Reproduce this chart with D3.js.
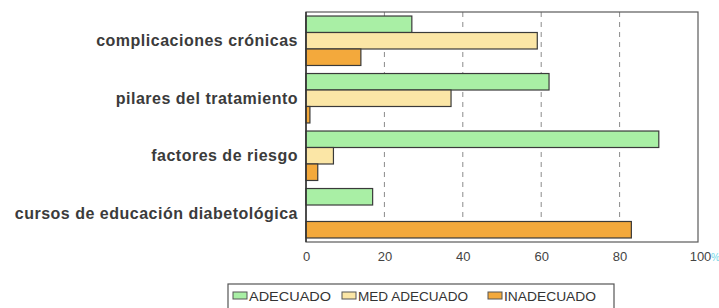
<!DOCTYPE html>
<html><head><meta charset="utf-8">
<script src="https://cdn.jsdelivr.net/npm/d3@7"></script>
<style>body{margin:0;background:#fff;}svg{display:block;}</style>
</head><body>
<svg id="c" width="719" height="308"></svg>
<script>
const categories = ["complicaciones crónicas","pilares del tratamiento","factores de riesgo","cursos de educación diabetológica"];
const seriesNames = ["ADECUADO","MED ADECUADO","INADECUADO"];
const adecuado = [27, 62, 90, 17];
const medio = [59, 37, 7, 0];
const inadecuado = [14, 1, 3, 83];
const xTicks = [0, 20, 40, 60, 80, 100];
const colors = ["#a9efa5", "#fbe6a6", "#f3a93c"];

const svg = d3.select("#c");
const L = 306, R = 698, T = 12, B = 242;
const x = d3.scaleLinear().domain([0, 100]).range([L, R]);
const y = d3.scaleBand().domain(categories).range([T, B]).paddingInner(0.14).paddingOuter(0.07);
const ys = d3.scaleBand().domain(seriesNames).range([0, y.bandwidth()]);
const values = [adecuado, medio, inadecuado];

// grid
svg.append("g").selectAll("line").data(xTicks.filter(t => t > 0 && t < 100)).join("line")
  .attr("x1", d => x(d)).attr("x2", d => x(d)).attr("y1", T).attr("y2", B)
  .attr("stroke", "#8a8a8a").attr("stroke-width", 1).attr("stroke-dasharray", "5,5");

// frame
svg.append("rect").attr("x", L).attr("y", T).attr("width", R - L).attr("height", B - T)
  .attr("fill", "none").attr("stroke", "#5a5a5a").attr("stroke-width", 1.2);

// bars
const data = [];
categories.forEach((c, i) => seriesNames.forEach((s, j) => data.push({c, s, j, v: values[j][i]})));
svg.append("g").selectAll("rect").data(data.filter(d => d.v > 0)).join("rect")
  .attr("x", x(0)).attr("y", d => y(d.c) + ys(d.s))
  .attr("width", d => x(d.v) - x(0)).attr("height", ys.bandwidth())
  .attr("fill", d => colors[d.j]).attr("stroke", "#3a3a3a").attr("stroke-width", 1.2);

// left axis line
svg.append("line").attr("x1", L).attr("x2", L).attr("y1", T).attr("y2", B).attr("stroke", "#333").attr("stroke-width", 1.5);

// x axis labels
const xa = svg.append("g").attr("transform", `translate(0,${B})`)
  .call(d3.axisBottom(x).tickValues(xTicks).tickSize(0).tickPadding(10));
xa.select(".domain").remove();
xa.selectAll("text").attr("font-family", "Liberation Sans, Arial, sans-serif").attr("font-size", 13).attr("fill", "#444");
xa.selectAll(".tick").filter(d => d === 100).select("text").attr("dx", 2);
svg.append("text").attr("x", x(100) + 13).attr("y", 261).attr("font-family", "Liberation Sans, Arial, sans-serif")
  .attr("font-size", 10).attr("fill", "#6fd8e8").text("%");

// category labels
svg.append("g").selectAll("text").data(categories).join("text")
  .attr("x", 298).attr("y", d => y(d) + y.bandwidth() / 2)
  .attr("dy", "0.35em").attr("text-anchor", "end")
  .attr("font-family", "Liberation Sans, Arial, sans-serif").attr("font-size", 16).attr("font-weight", "bold")
  .attr("letter-spacing", "0.5px")
  .attr("fill", "#3b3b3b").text(d => d);

// legend
svg.append("rect").attr("x", 228).attr("y", 284).attr("width", 386).attr("height", 40)
  .attr("fill", "none").attr("stroke", "#555").attr("stroke-width", 1.2);
const legX = [233, 342, 488];
const legW = [82, 110, 92];
const lg = svg.append("g").selectAll("g").data(seriesNames).join("g")
  .attr("transform", (d, i) => `translate(${legX[i]},292)`);
lg.append("rect").attr("width", 14).attr("height", 7).attr("fill", (d, i) => colors[i]).attr("stroke", "#555").attr("stroke-width", 1);
lg.append("text").attr("x", 16).attr("y", 9).attr("font-family", "Liberation Sans, Arial, sans-serif")
  .attr("font-size", 12).attr("fill", "#333")
  .attr("textLength", (d, i) => legW[i]).attr("lengthAdjust", "spacingAndGlyphs").text(d => d);
</script>
</body></html>
